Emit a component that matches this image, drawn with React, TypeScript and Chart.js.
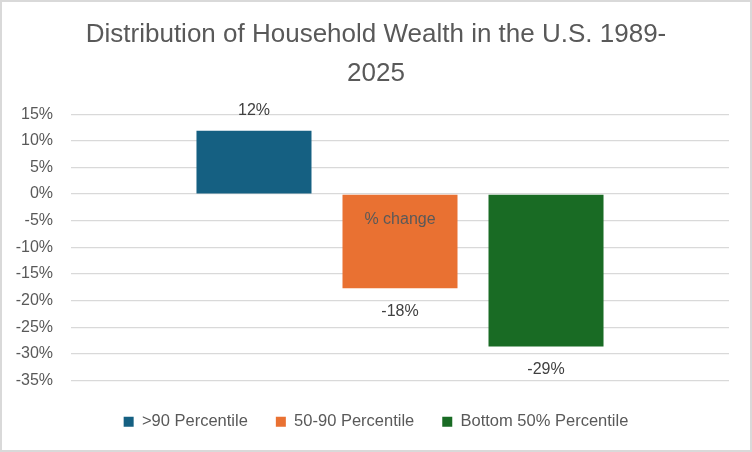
import React, { useEffect, useRef } from "react";
import { Chart, registerables } from "chart.js";

Chart.register(...registerables);

const categories = ["% change"];
const seriesNames = [">90 Percentile", "50-90 Percentile", "Bottom 50% Percentile"];
const seriesValues = [[0.119], [-0.177], [-0.286]];
const seriesColors = ["#156082", "#E97132", "#196B24"];
const titleLines = ["Distribution of Household Wealth in the U.S. 1989-", "2025"];
const yMin = -0.35;
const yMax = 0.15;
const yStep = 0.05;

const pct = (v: number) => `${Math.round(v * 100)}%`;

const labelPlugin = {
  id: "barLabels",
  afterDatasetsDraw(chart: any) {
    const ctx = chart.ctx;
    ctx.save();
    ctx.font = "16px 'Liberation Sans', Arial, sans-serif";
    ctx.fillStyle = "#404040";
    ctx.textAlign = "center";
    ctx.textBaseline = "middle";
    chart.data.datasets.forEach((ds: any, i: number) => {
      const meta = chart.getDatasetMeta(i);
      meta.data.forEach((el: any, j: number) => {
        const v = ds.data[j];
        const y = v >= 0 ? el.y - 20 : el.y + 23;
        ctx.fillText(pct(v), el.x, y);
      });
    });
    ctx.restore();
  },
};

export default function App() {
  const ref = useRef<HTMLCanvasElement | null>(null);
  useEffect(() => {
    document.body.style.margin = "0";
    if (!ref.current) return;
    const chart = new Chart(ref.current, {
      type: "bar",
      data: {
        labels: categories,
        datasets: seriesNames.map((name, i) => ({
          label: name,
          data: seriesValues[i],
          backgroundColor: seriesColors[i],
          borderWidth: 0,
          categoryPercentage: 0.6657,
          barPercentage: 0.7877,
        })),
      },
      options: {
        responsive: false,
        animation: false,
        layout: { padding: { left: 0, right: 0, top: 0, bottom: 10 } },
        plugins: {
          tooltip: { enabled: false },
          title: {
            display: true,
            text: titleLines,
            color: "#595959",
            font: { family: "'Liberation Sans', Arial, sans-serif", size: 26, weight: "normal", lineHeight: 1.5 },
            padding: { top: 13.5, bottom: 20.7 },
          },
          legend: {
            position: "bottom",
            labels: {
              color: "#595959",
              font: { family: "'Liberation Sans', Arial, sans-serif", size: 16.5 },
              boxWidth: 10,
              boxHeight: 10,
              padding: 28,
            },
          },
        },
        scales: {
          x: {
            position: { y: 0 } as any,
            grid: { display: false, drawTicks: false },
            border: { display: false },
            ticks: {
              z: 1,
              padding: 16,
              color: "#595959",
              font: { family: "'Liberation Sans', Arial, sans-serif", size: 16 },
            },
          },
          bottomSpacer: {
            type: "linear",
            axis: "x",
            position: "bottom",
            display: true,
            grid: { display: false, drawTicks: false },
            border: { display: false },
            ticks: { display: false },
            afterFit: (s: any) => {
              s.height = 5;
            },
          },
          y: {
            min: yMin,
            max: yMax,
            grid: { color: "#d9d9d9", lineWidth: 1.3, drawTicks: false },
            border: { display: false },
            ticks: {
              stepSize: yStep,
              padding: 18,
              color: "#595959",
              font: { family: "'Liberation Sans', Arial, sans-serif", size: 16 },
              callback: (v: any) => pct(Number(v)),
            },
            afterFit: (s: any) => {
              s.width = 69;
            },
          },
          rightSpacer: {
            type: "linear",
            axis: "y",
            position: "right",
            display: true,
            grid: { display: false, drawTicks: false },
            border: { display: false },
            ticks: { display: false },
            afterFit: (s: any) => {
              s.width = 21;
            },
          },
        },
      },
      plugins: [labelPlugin],
    });
    return () => chart.destroy();
  }, []);
  return (
    <div
      style={{
        width: 752,
        height: 452,
        boxSizing: "border-box",
        border: "2px solid #d9d9d9",
        background: "#ffffff",
      }}
    >
      <canvas ref={ref} width={748} height={448} style={{ display: "block", width: 748, height: 448 }} />
    </div>
  );
}
